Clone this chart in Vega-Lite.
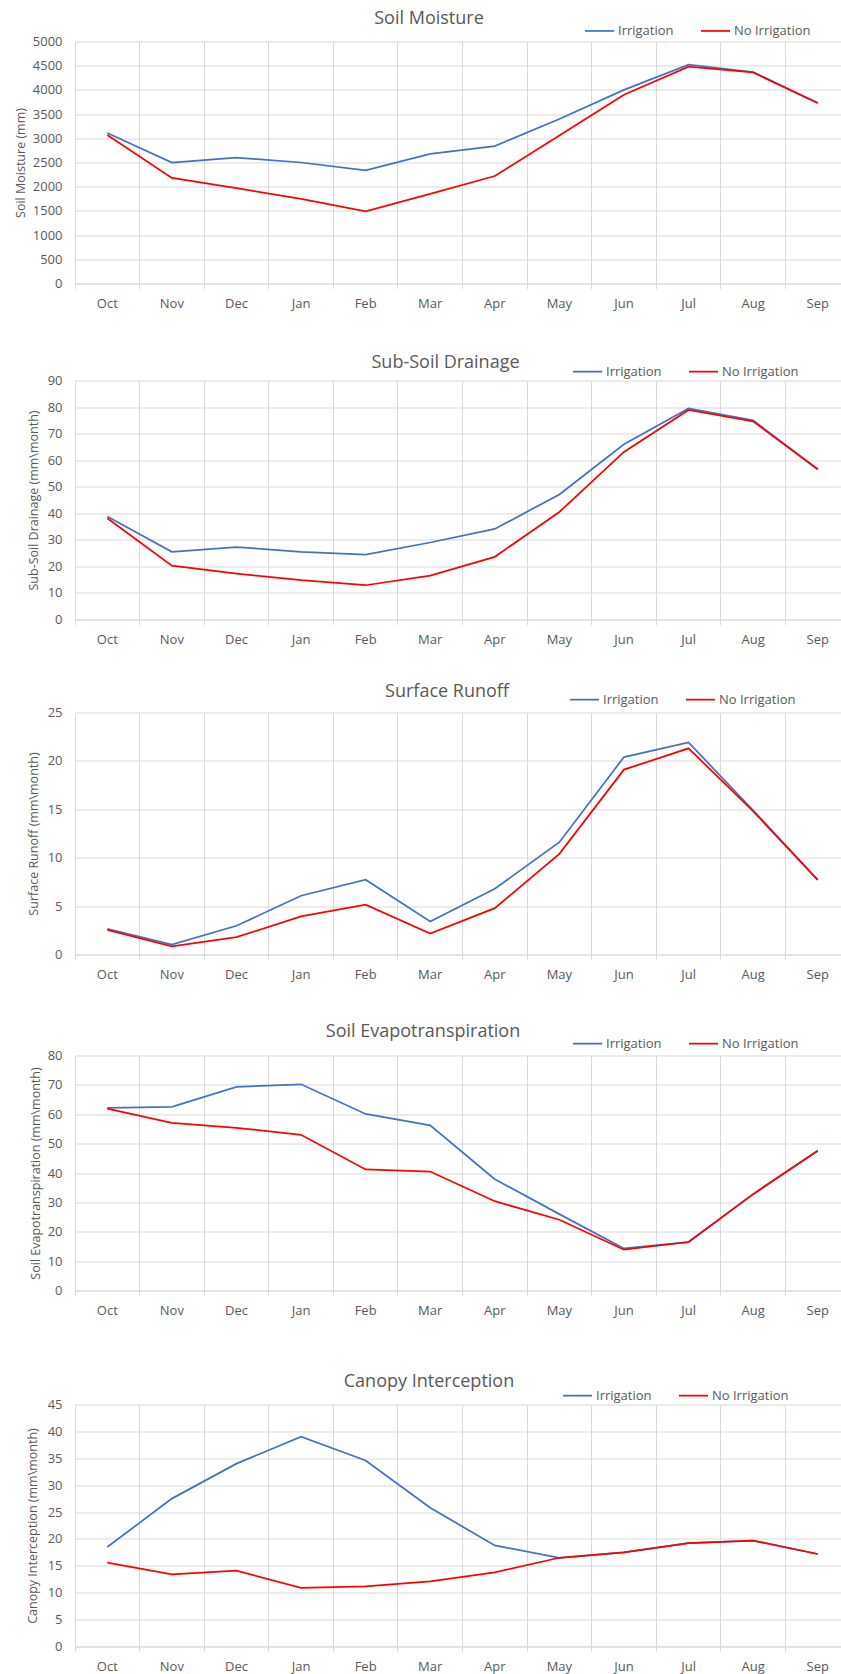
{
  "$schema": "https://vega.github.io/schema/vega-lite/v6.json",
  "padding": {"left": 14, "top": 9.5, "right": -9, "bottom": 0},
  "spacing": 20,
  "resolve": {"scale": {"x": "independent", "y": "independent", "color": "independent"}, "legend": {"color": "independent"}},
  "config": {
    "view": {"stroke": null},
    "font": "Open Sans",
    "axis": {"labelFont": "Open Sans", "labelFontSize": 13, "labelColor": "#595959", "titleFont": "Open Sans", "titleFontWeight": "normal", "titleColor": "#595959", "titleFontSize": 12.5, "gridColor": "#d9d9d9", "gridWidth": 1},
    "axisX": {"title": null, "bandPosition": 0, "labelAngle": 0, "grid": true, "tickColor": "#d9d9d9", "tickSize": 5, "domainColor": "#d9d9d9", "labelPadding": 8.5},
    "axisY": {"domain": false, "ticks": false, "labelPadding": 13, "titleBaseline": "middle", "format": "d"},
    "legend": {"title": null, "orient": "none", "direction": "horizontal", "symbolType": "stroke", "symbolSize": 841, "symbolStrokeWidth": 2, "labelOffset": 3, "columnPadding": 23, "labelFont": "Open Sans", "labelFontSize": 13, "labelColor": "#595959"},
    "title": {"font": "Open Sans", "fontSize": 18, "fontWeight": "normal", "color": "#595959", "anchor": "middle", "baseline": "alphabetic", "frame": "group"},
    "line": {"strokeWidth": 1.75}
  },
  "vconcat": [
    {
      "width": 775, "height": 242,
      "title": {"text": "Soil Moisture", "offset": -12.7, "dx": -33.5},
      "data": {"values": [
        {"month": "Oct", "scenario": "Irrigation", "value": 3110},
        {"month": "Nov", "scenario": "Irrigation", "value": 2500},
        {"month": "Dec", "scenario": "Irrigation", "value": 2600},
        {"month": "Jan", "scenario": "Irrigation", "value": 2500},
        {"month": "Feb", "scenario": "Irrigation", "value": 2340},
        {"month": "Mar", "scenario": "Irrigation", "value": 2680},
        {"month": "Apr", "scenario": "Irrigation", "value": 2840},
        {"month": "May", "scenario": "Irrigation", "value": 3400},
        {"month": "Jun", "scenario": "Irrigation", "value": 4000},
        {"month": "Jul", "scenario": "Irrigation", "value": 4520},
        {"month": "Aug", "scenario": "Irrigation", "value": 4370},
        {"month": "Sep", "scenario": "Irrigation", "value": 3730},
        {"month": "Oct", "scenario": "No Irrigation", "value": 3070},
        {"month": "Nov", "scenario": "No Irrigation", "value": 2180},
        {"month": "Dec", "scenario": "No Irrigation", "value": 1970},
        {"month": "Jan", "scenario": "No Irrigation", "value": 1750},
        {"month": "Feb", "scenario": "No Irrigation", "value": 1490},
        {"month": "Mar", "scenario": "No Irrigation", "value": 1850},
        {"month": "Apr", "scenario": "No Irrigation", "value": 2220},
        {"month": "May", "scenario": "No Irrigation", "value": 3060},
        {"month": "Jun", "scenario": "No Irrigation", "value": 3900},
        {"month": "Jul", "scenario": "No Irrigation", "value": 4480},
        {"month": "Aug", "scenario": "No Irrigation", "value": 4360},
        {"month": "Sep", "scenario": "No Irrigation", "value": 3730}
      ]},
      "mark": {"type": "line"},
      "encoding": {
        "x": {"field": "month", "type": "nominal", "sort": ["Oct","Nov","Dec","Jan","Feb","Mar","Apr","May","Jun","Jul","Aug","Sep"], "bandPosition": 0.5, "scale": {"type": "band", "paddingInner": 0, "paddingOuter": 0}, "axis": {"minExtent": 49.9}},
        "y": {"field": "value", "type": "quantitative", "scale": {"domain": [0, 5000], "nice": false}, "axis": {"title": "Soil Moisture (mm)", "values": [0,500,1000,1500,2000,2500,3000,3500,4000,4500,5000], "titleX": -55}},
        "color": {"field": "scenario", "type": "nominal", "scale": {"domain": ["Irrigation","No Irrigation"], "range": ["#4472C4","#FF0000"]}, "legend": {"legendX": 509, "legendY": -26.3}}
      }
    },
    {
      "width": 775, "height": 239,
      "title": {"text": "Sub-Soil Drainage", "offset": -15.7, "dx": -17},
      "data": {"values": [
        {"month": "Oct", "scenario": "Irrigation", "value": 38.8},
        {"month": "Nov", "scenario": "Irrigation", "value": 25.5},
        {"month": "Dec", "scenario": "Irrigation", "value": 27.3},
        {"month": "Jan", "scenario": "Irrigation", "value": 25.5},
        {"month": "Feb", "scenario": "Irrigation", "value": 24.4},
        {"month": "Mar", "scenario": "Irrigation", "value": 29.0},
        {"month": "Apr", "scenario": "Irrigation", "value": 34.1},
        {"month": "May", "scenario": "Irrigation", "value": 47.1},
        {"month": "Jun", "scenario": "Irrigation", "value": 66.0},
        {"month": "Jul", "scenario": "Irrigation", "value": 79.5},
        {"month": "Aug", "scenario": "Irrigation", "value": 75.0},
        {"month": "Sep", "scenario": "Irrigation", "value": 56.6},
        {"month": "Oct", "scenario": "No Irrigation", "value": 38.1},
        {"month": "Nov", "scenario": "No Irrigation", "value": 20.3},
        {"month": "Dec", "scenario": "No Irrigation", "value": 17.3},
        {"month": "Jan", "scenario": "No Irrigation", "value": 14.8},
        {"month": "Feb", "scenario": "No Irrigation", "value": 12.9},
        {"month": "Mar", "scenario": "No Irrigation", "value": 16.5},
        {"month": "Apr", "scenario": "No Irrigation", "value": 23.6},
        {"month": "May", "scenario": "No Irrigation", "value": 40.5},
        {"month": "Jun", "scenario": "No Irrigation", "value": 63.1},
        {"month": "Jul", "scenario": "No Irrigation", "value": 78.9},
        {"month": "Aug", "scenario": "No Irrigation", "value": 74.6},
        {"month": "Sep", "scenario": "No Irrigation", "value": 56.6}
      ]},
      "mark": {"type": "line"},
      "encoding": {
        "x": {"field": "month", "type": "nominal", "sort": ["Oct","Nov","Dec","Jan","Feb","Mar","Apr","May","Jun","Jul","Aug","Sep"], "bandPosition": 0.5, "scale": {"type": "band", "paddingInner": 0, "paddingOuter": 0}, "axis": {"minExtent": 42.9}},
        "y": {"field": "value", "type": "quantitative", "scale": {"domain": [0, 90], "nice": false}, "axis": {"title": "Sub-Soil Drainage (mm\\month)", "values": [0,10,20,30,40,50,60,70,80,90], "titleX": -42}},
        "color": {"field": "scenario", "type": "nominal", "scale": {"domain": ["Irrigation","No Irrigation"], "range": ["#4472C4","#FF0000"]}, "legend": {"legendX": 497, "legendY": -24.6}}
      }
    },
    {
      "width": 775, "height": 242,
      "title": {"text": "Surface Runoff", "offset": -16.7, "dx": -15.5},
      "data": {"values": [
        {"month": "Oct", "scenario": "Irrigation", "value": 2.66},
        {"month": "Nov", "scenario": "Irrigation", "value": 1.03},
        {"month": "Dec", "scenario": "Irrigation", "value": 2.97},
        {"month": "Jan", "scenario": "Irrigation", "value": 6.07},
        {"month": "Feb", "scenario": "Irrigation", "value": 7.72},
        {"month": "Mar", "scenario": "Irrigation", "value": 3.41},
        {"month": "Apr", "scenario": "Irrigation", "value": 6.79},
        {"month": "May", "scenario": "Irrigation", "value": 11.6},
        {"month": "Jun", "scenario": "Irrigation", "value": 20.4},
        {"month": "Jul", "scenario": "Irrigation", "value": 21.9},
        {"month": "Aug", "scenario": "Irrigation", "value": 14.9},
        {"month": "Sep", "scenario": "Irrigation", "value": 7.7},
        {"month": "Oct", "scenario": "No Irrigation", "value": 2.55},
        {"month": "Nov", "scenario": "No Irrigation", "value": 0.83},
        {"month": "Dec", "scenario": "No Irrigation", "value": 1.79},
        {"month": "Jan", "scenario": "No Irrigation", "value": 3.93},
        {"month": "Feb", "scenario": "No Irrigation", "value": 5.14},
        {"month": "Mar", "scenario": "No Irrigation", "value": 2.17},
        {"month": "Apr", "scenario": "No Irrigation", "value": 4.79},
        {"month": "May", "scenario": "No Irrigation", "value": 10.4},
        {"month": "Jun", "scenario": "No Irrigation", "value": 19.1},
        {"month": "Jul", "scenario": "No Irrigation", "value": 21.3},
        {"month": "Aug", "scenario": "No Irrigation", "value": 14.8},
        {"month": "Sep", "scenario": "No Irrigation", "value": 7.7}
      ]},
      "mark": {"type": "line"},
      "encoding": {
        "x": {"field": "month", "type": "nominal", "sort": ["Oct","Nov","Dec","Jan","Feb","Mar","Apr","May","Jun","Jul","Aug","Sep"], "bandPosition": 0.5, "scale": {"type": "band", "paddingInner": 0, "paddingOuter": 0}, "axis": {"minExtent": 47.6}},
        "y": {"field": "value", "type": "quantitative", "scale": {"domain": [0, 25], "nice": false}, "axis": {"title": "Surface Runoff (mm\\month)", "values": [0,5,10,15,20,25], "titleX": -42}},
        "color": {"field": "scenario", "type": "nominal", "scale": {"domain": ["Irrigation","No Irrigation"], "range": ["#4472C4","#FF0000"]}, "legend": {"legendX": 494, "legendY": -28.6}}
      }
    },
    {
      "width": 775, "height": 235,
      "title": {"text": "Soil Evapotranspiration", "offset": -12.7, "dx": -39.5},
      "data": {"values": [
        {"month": "Oct", "scenario": "Irrigation", "value": 62.2},
        {"month": "Nov", "scenario": "Irrigation", "value": 62.5},
        {"month": "Dec", "scenario": "Irrigation", "value": 69.3},
        {"month": "Jan", "scenario": "Irrigation", "value": 70.2},
        {"month": "Feb", "scenario": "Irrigation", "value": 60.1},
        {"month": "Mar", "scenario": "Irrigation", "value": 56.2},
        {"month": "Apr", "scenario": "Irrigation", "value": 37.9},
        {"month": "May", "scenario": "Irrigation", "value": 26.0},
        {"month": "Jun", "scenario": "Irrigation", "value": 14.3},
        {"month": "Jul", "scenario": "Irrigation", "value": 16.5},
        {"month": "Aug", "scenario": "Irrigation", "value": 32.8},
        {"month": "Sep", "scenario": "Irrigation", "value": 47.6},
        {"month": "Oct", "scenario": "No Irrigation", "value": 61.9},
        {"month": "Nov", "scenario": "No Irrigation", "value": 57.1},
        {"month": "Dec", "scenario": "No Irrigation", "value": 55.4},
        {"month": "Jan", "scenario": "No Irrigation", "value": 53.0},
        {"month": "Feb", "scenario": "No Irrigation", "value": 41.2},
        {"month": "Mar", "scenario": "No Irrigation", "value": 40.5},
        {"month": "Apr", "scenario": "No Irrigation", "value": 30.4},
        {"month": "May", "scenario": "No Irrigation", "value": 24.1},
        {"month": "Jun", "scenario": "No Irrigation", "value": 13.9},
        {"month": "Jul", "scenario": "No Irrigation", "value": 16.5},
        {"month": "Aug", "scenario": "No Irrigation", "value": 32.8},
        {"month": "Sep", "scenario": "No Irrigation", "value": 47.6}
      ]},
      "mark": {"type": "line"},
      "encoding": {
        "x": {"field": "month", "type": "nominal", "sort": ["Oct","Nov","Dec","Jan","Feb","Mar","Apr","May","Jun","Jul","Aug","Sep"], "bandPosition": 0.5, "scale": {"type": "band", "paddingInner": 0, "paddingOuter": 0}, "axis": {"minExtent": 61.1}},
        "y": {"field": "value", "type": "quantitative", "scale": {"domain": [0, 80], "nice": false}, "axis": {"title": "Soil Evapotranspiration (mm\\month)", "values": [0,10,20,30,40,50,60,70,80], "titleX": -40}},
        "color": {"field": "scenario", "type": "nominal", "scale": {"domain": ["Irrigation","No Irrigation"], "range": ["#4472C4","#FF0000"]}, "legend": {"legendX": 497, "legendY": -27.6}}
      }
    },
    {
      "width": 775, "height": 242,
      "title": {"text": "Canopy Interception", "offset": -10.7, "dx": -33.5},
      "data": {"values": [
        {"month": "Oct", "scenario": "Irrigation", "value": 18.5},
        {"month": "Nov", "scenario": "Irrigation", "value": 27.5},
        {"month": "Dec", "scenario": "Irrigation", "value": 34.0},
        {"month": "Jan", "scenario": "Irrigation", "value": 39.0},
        {"month": "Feb", "scenario": "Irrigation", "value": 34.6},
        {"month": "Mar", "scenario": "Irrigation", "value": 25.8},
        {"month": "Apr", "scenario": "Irrigation", "value": 18.8},
        {"month": "May", "scenario": "Irrigation", "value": 16.5},
        {"month": "Jun", "scenario": "Irrigation", "value": 17.5},
        {"month": "Jul", "scenario": "Irrigation", "value": 19.2},
        {"month": "Aug", "scenario": "Irrigation", "value": 19.7},
        {"month": "Sep", "scenario": "Irrigation", "value": 17.2},
        {"month": "Oct", "scenario": "No Irrigation", "value": 15.6},
        {"month": "Nov", "scenario": "No Irrigation", "value": 13.4},
        {"month": "Dec", "scenario": "No Irrigation", "value": 14.1},
        {"month": "Jan", "scenario": "No Irrigation", "value": 10.9},
        {"month": "Feb", "scenario": "No Irrigation", "value": 11.2},
        {"month": "Mar", "scenario": "No Irrigation", "value": 12.1},
        {"month": "Apr", "scenario": "No Irrigation", "value": 13.8},
        {"month": "May", "scenario": "No Irrigation", "value": 16.5},
        {"month": "Jun", "scenario": "No Irrigation", "value": 17.5},
        {"month": "Jul", "scenario": "No Irrigation", "value": 19.2},
        {"month": "Aug", "scenario": "No Irrigation", "value": 19.7},
        {"month": "Sep", "scenario": "No Irrigation", "value": 17.2}
      ]},
      "mark": {"type": "line"},
      "encoding": {
        "x": {"field": "month", "type": "nominal", "sort": ["Oct","Nov","Dec","Jan","Feb","Mar","Apr","May","Jun","Jul","Aug","Sep"], "bandPosition": 0.5, "scale": {"type": "band", "paddingInner": 0, "paddingOuter": 0}},
        "y": {"field": "value", "type": "quantitative", "scale": {"domain": [0, 45], "nice": false}, "axis": {"title": "Canopy Interception (mm\\month)", "values": [0,5,10,15,20,25,30,35,40,45], "titleX": -43}},
        "color": {"field": "scenario", "type": "nominal", "scale": {"domain": ["Irrigation","No Irrigation"], "range": ["#4472C4","#FF0000"]}, "legend": {"legendX": 487, "legendY": -24.6}}
      }
    }
  ]
}
